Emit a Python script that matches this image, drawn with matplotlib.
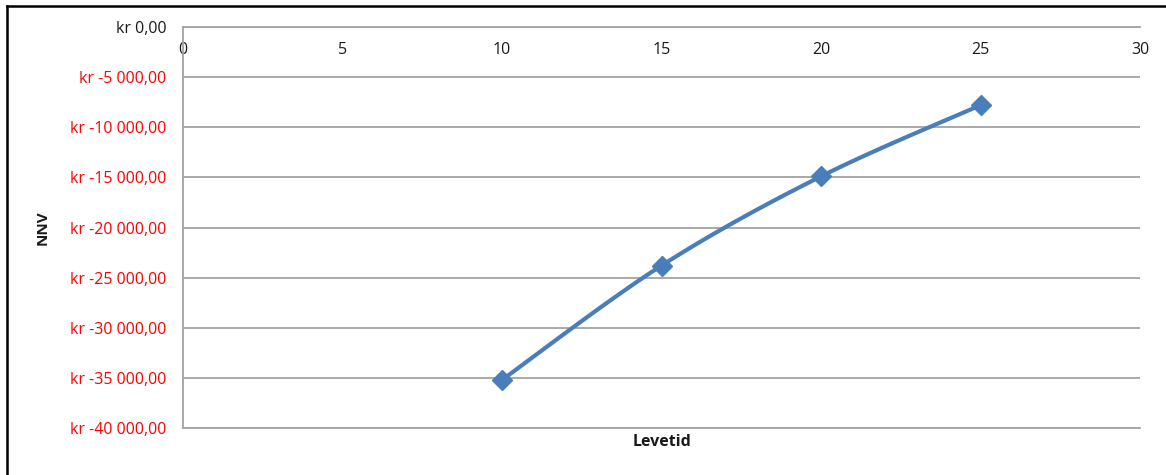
import numpy as np
import matplotlib
matplotlib.use("Agg")
import matplotlib.pyplot as plt
from matplotlib.lines import Line2D

# Lifetime (years) vs. net present value (NOK)
levetid = [10, 15, 20, 25]
nnv = [-35200, -23800, -14900, -7800]

x_ticks = [0, 5, 10, 15, 20, 25, 30]
y_ticks = [0, -5000, -10000, -15000, -20000, -25000, -30000, -35000, -40000]
y_tick_labels = ["kr 0,00", "kr -5 000,00", "kr -10 000,00", "kr -15 000,00",
                 "kr -20 000,00", "kr -25 000,00", "kr -30 000,00",
                 "kr -35 000,00", "kr -40 000,00"]

LINE_BLUE = "#4A7EBB"
GRID_GRAY = "#A3A3A3"
TEXT_DARK = "#1a1a1a"
FS = 11.5


def smooth_curve(xs, ys, n=40):
    """Cubic Bezier smoothing through the points (Catmull-Rom style controls)."""
    px = [xs[0]] + list(xs) + [xs[-1]]
    py = [ys[0]] + list(ys) + [ys[-1]]
    out_x, out_y = [], []
    t = np.linspace(0, 1, n)
    for i in range(1, len(px) - 2):
        p0 = np.array([px[i - 1], py[i - 1]], float)
        p1 = np.array([px[i], py[i]], float)
        p2 = np.array([px[i + 1], py[i + 1]], float)
        p3 = np.array([px[i + 2], py[i + 2]], float)
        c1 = p1 + (p2 - p0) / 6.0
        c2 = p2 - (p3 - p1) / 6.0
        b = ((1 - t) ** 3)[:, None] * p1 + (3 * (1 - t) ** 2 * t)[:, None] * c1 \
            + (3 * (1 - t) * t ** 2)[:, None] * c2 + (t ** 3)[:, None] * p2
        out_x.extend(b[:, 0])
        out_y.extend(b[:, 1])
    return out_x, out_y


plt.rcParams['font.family'] = ['Open Sans', 'DejaVu Sans']

fig = plt.figure(figsize=(11.66, 4.75), dpi=100)
ax = fig.add_axes([183 / 1166, 1 - 428 / 475, (1140 - 183) / 1166, (428 - 27) / 475])

ax.set_xlim(0, 30)
ax.set_ylim(-40000, 0)

ax.set_yticks(y_ticks)
ax.set_yticklabels(y_tick_labels)
for lbl, val in zip(ax.get_yticklabels(), y_ticks):
    lbl.set_color(TEXT_DARK if val >= 0 else "#FF0000")
ax.tick_params(axis='y', length=0, pad=12, labelsize=FS)

ax.set_xticks(x_ticks)
ax.tick_params(axis='x', length=0, bottom=False, top=False,
               labelbottom=False, labeltop=True, pad=-22, labelsize=FS,
               labelcolor=TEXT_DARK)

ax.grid(axis='y', color=GRID_GRAY, linewidth=1.3)
ax.set_axisbelow(True)
for side in ('left', 'bottom', 'top'):
    ax.spines[side].set_color(GRID_GRAY)
    ax.spines[side].set_linewidth(1.3)
ax.spines['right'].set_visible(False)

sx, sy = smooth_curve(levetid, nnv)
ax.plot(sx, sy, color=LINE_BLUE, linewidth=3.0, solid_capstyle='round', zorder=3)
ax.plot(levetid, nnv, linestyle='none', marker='D', markersize=10,
        color=LINE_BLUE, zorder=4)

fig.text(43 / 1166, 1 - 228 / 475, "NNV", rotation=90, ha='center', va='center',
         fontsize=11, fontweight='bold', color=TEXT_DARK)
fig.text(662 / 1166, 1 - 442 / 475, "Levetid", ha='center', va='center',
         fontsize=11.5, fontweight='bold', color=TEXT_DARK)

# outer chart frame (left and top edges)
fig.add_artist(Line2D([7 / 1166, 7 / 1166], [0, 1 - 6 / 475], transform=fig.transFigure,
                      color='black', linewidth=1.8))
fig.add_artist(Line2D([7 / 1166, 1], [1 - 6 / 475, 1 - 6 / 475], transform=fig.transFigure,
                      color='black', linewidth=1.8))

fig.savefig("out.png", dpi=100)
